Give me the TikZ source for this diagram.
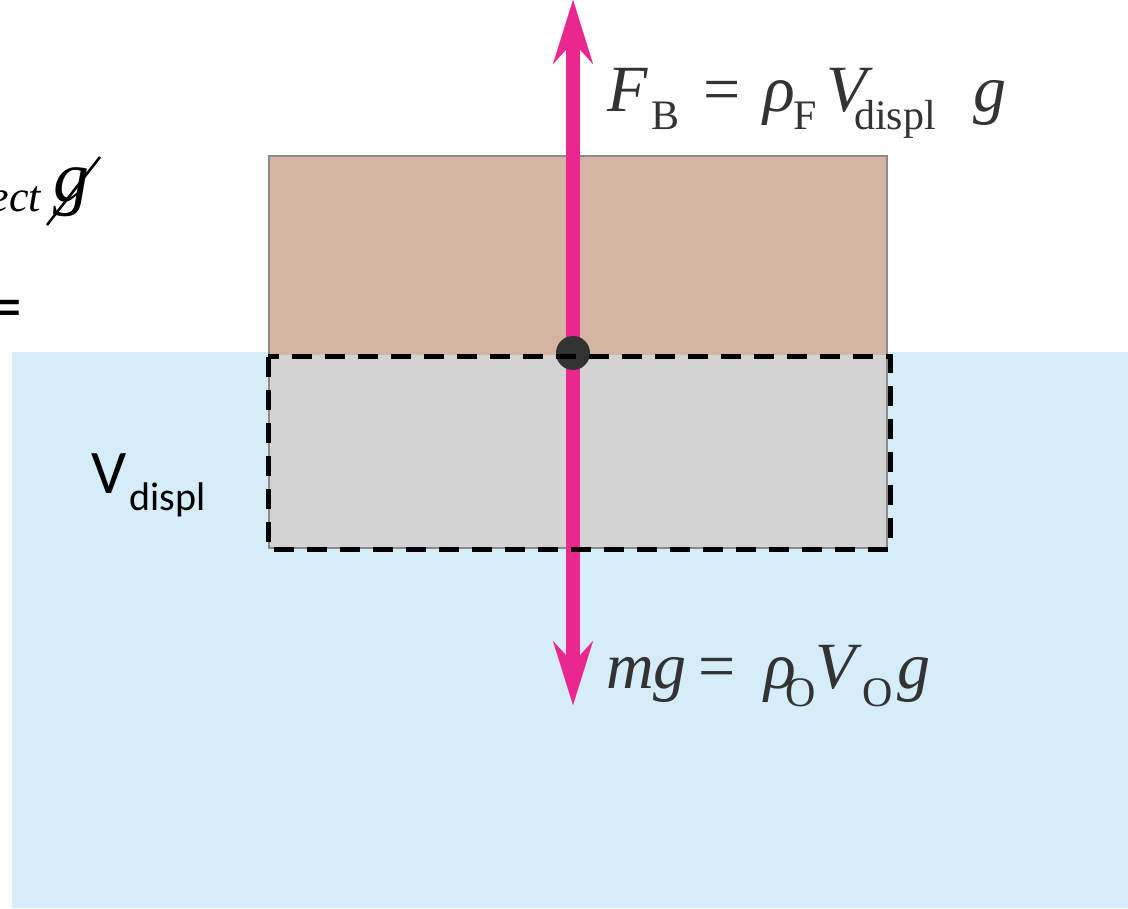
\documentclass[tikz,border=0pt]{standalone}
\usepackage{fontspec}
\setmainfont{Liberation Serif}
\newfontfamily\calib{Carlito}
\usetikzlibrary{arrows.meta,shapes.geometric}
\definecolor{water}{HTML}{D5ECF9}
\definecolor{objbrown}{HTML}{D4B4A3}
\definecolor{objgray}{HTML}{D3D3D3}
\definecolor{frameg}{HTML}{8A8A8A}
\definecolor{forcepink}{HTML}{EC268F}
\definecolor{dotc}{HTML}{333333}
\definecolor{txt}{HTML}{333333}
\newcommand\lowsub[1]{\raisebox{-18pt}{\fontsize{42}{42}\selectfont\upshape #1}}
\tikzset{
  force/.style={draw=forcepink, line width=14pt,
    {Stealth[length=64pt, width=40pt, inset=22pt, line width=0.1pt]}-{Stealth[length=64pt, width=40pt, inset=22pt, line width=0.1pt]}},
  eqn/.style={text=txt, inner sep=0pt, anchor=base west, font=\fontsize{66}{66}\selectfont},
  dispbox/.style={draw=black, line width=5pt, dash pattern=on 20pt off 13pt},
}
\begin{document}
\begin{tikzpicture}[x=1pt,y=-1pt]
\useasboundingbox (0,0) rectangle (1128,909);
% water
\fill[water] (12,352) rectangle (1128,908);
% object
\fill[objbrown] (269,156) rectangle (887,355);
\fill[objgray] (269,355) rectangle (887,548);
\draw[frameg, line width=2pt] (269,156) rectangle (887,548);
% force arrow
\coordinate (top) at (573,0);
\coordinate (bot) at (573,705);
\draw[force] (bot) -- (top);
\node[circle, fill=dotc, minimum size=34pt, inner sep=0pt] (dot) at (573,353) {};
% displaced volume
\draw[dispbox] (268,357) rectangle (890,549);
% labels
\node[eqn] (fb) at (607,112) {\itshape F\kern4pt\lowsub{B}\kern24pt\upshape=\kern23pt\itshape ρ\kern-2pt\lowsub{F}\kern10pt V\kern-13pt\lowsub{displ}\kern38pt g};
\node[eqn] (mg) at (606,688) {\itshape mg\kern12pt\upshape=\kern28pt\itshape ρ\kern-10pt\lowsub{O}\kern-1pt V\kern7pt\lowsub{O}\kern5pt g};
\node[inner sep=0pt, anchor=base west, font=\calib\fontsize{62}{62}\selectfont] (vd) at (91,493) {V};
\node[inner sep=0pt, anchor=base west, font=\calib\fontsize{40}{40}\selectfont] (vds) at (129,510) {displ};
% partial left text
\node[inner sep=0pt, anchor=base east, font=\itshape\fontsize{44}{44}\selectfont] (ect) at (41,212) {ect};
\node[inner sep=0pt, anchor=base west, font=\itshape\fontsize{72}{72}\selectfont] (gg) at (53,202) {g};
\draw[line width=2.5pt] (47,225) -- (100,157);
\node[inner sep=0pt, anchor=base east, font=\calib\fontsize{68}{68}\selectfont] (eq) at (23,330) {=};
\end{tikzpicture}
\end{document}
